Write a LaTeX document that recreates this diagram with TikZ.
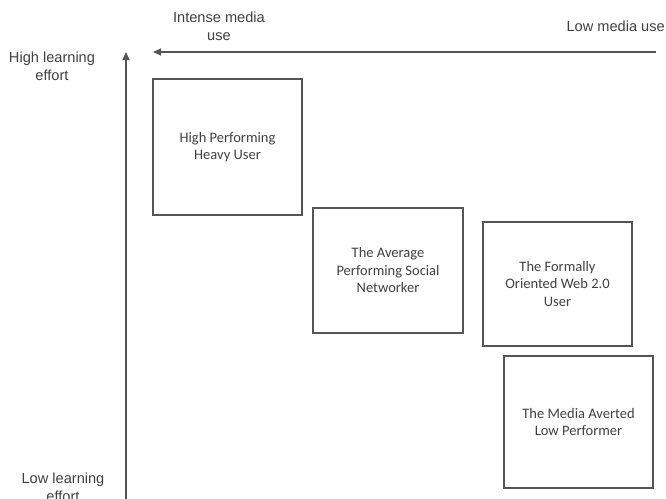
\documentclass[tikz,border=0pt]{standalone}
\usepackage{fontspec}
\setmainfont{Liberation Sans}
\newfontfamily\boxfont{Carlito}
\usetikzlibrary{arrows.meta}
\definecolor{edge}{HTML}{555555}
\definecolor{ink}{HTML}{404040}
\begin{document}
\begin{tikzpicture}[x=1pt,y=-1pt,
  quad/.style={draw=edge, line width=1.3pt, inner sep=0pt, align=center, text=ink,
    font=\boxfont\fontsize{14.5}{17.5}\selectfont},
  axislabel/.style={align=center, text=ink, inner sep=0pt,
    font=\fontsize{14.6}{18}\selectfont},
  axis/.style={draw=edge, line width=1.2pt, -{Triangle[length=8pt,width=7pt]}}]
\useasboundingbox (0,0) rectangle (666,498);
\clip (0,0) rectangle (666,498);

% the four user types
\node[quad, minimum width=149pt, minimum height=136pt] (hp) at (227.5,147)
  {High Performing\\Heavy User};
\node[quad, minimum width=150pt, minimum height=125pt] (avg) at (388,270.5)
  {The Average\\Performing Social\\Networker};
\node[quad, minimum width=149pt, minimum height=124pt] (formal) at (557.5,284)
  {The Formally\\Oriented Web 2.0\\User};
\node[quad, minimum width=149pt, minimum height=132pt] (averted) at (578.5,422)
  {The Media Averted\\Low Performer};

% axes
\coordinate (ybase) at (126,510);
\coordinate (ytop) at (126,52);
\coordinate (xstart) at (656,52);
\coordinate (xend) at (153,52);
\draw[axis] (ybase) -- (ytop);
\draw[axis] (xstart) -- (xend);

% axis labels
\node[axislabel] (highlearn) at (52,66) {High learning\\effort};
\node[axislabel] (lowlearn) at (63,487) {Low learning\\effort};
\node[axislabel] (intense) at (219,26) {Intense media\\use};
\node[axislabel, anchor=east] (lowmedia) at (665,26) {Low media use};
\end{tikzpicture}
\end{document}
